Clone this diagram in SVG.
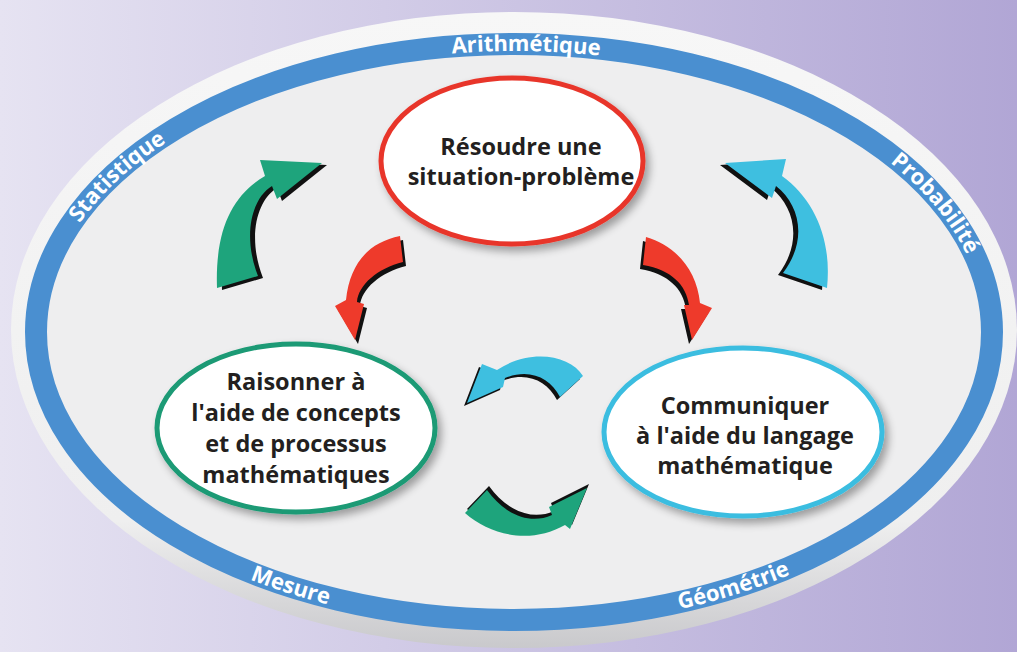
<svg xmlns="http://www.w3.org/2000/svg" width="1017" height="652" viewBox="0 0 1017 652">
<defs>
<linearGradient id="bg" x1="0" y1="0" x2="1" y2="0">
<stop offset="0" stop-color="#e6e3f2"/>
<stop offset="1" stop-color="#b1a6d5"/>
</linearGradient>
<linearGradient id="rim" x1="0" y1="0" x2="0" y2="1">
<stop offset="0" stop-color="#f7f7f7"/>
<stop offset="0.8" stop-color="#efefef"/>
<stop offset="1" stop-color="#c9c9cc"/>
</linearGradient>
<filter id="sh" x="-20%" y="-20%" width="140%" height="140%">
<feGaussianBlur in="SourceAlpha" stdDeviation="4"/>
<feOffset dx="4" dy="5" result="b"/>
<feComponentTransfer><feFuncA type="linear" slope="0.35"/></feComponentTransfer>
<feMerge><feMergeNode/><feMergeNode in="SourceGraphic"/></feMerge>
</filter>
<path id="topArc" d="M 43 332 A 471 281 0 0 1 985 332"/>
<path id="botArc" d="M 29 332 A 485 295 0 0 0 999 332"/>
<style>
.ring{font-family:"Open Sans","Noto Sans",sans-serif;font-weight:bold;font-size:22px;fill:#ffffff;}
.lbl{font-family:"Open Sans","Noto Sans",sans-serif;font-weight:bold;font-size:23.5px;fill:#231f20;text-anchor:middle;}
.shadow{fill:#111111;}
.green{fill:#1ea47c;}
.red{fill:#ee3a2b;}
.cyan{fill:#3ebfe0;}
.node{fill:#ffffff;stroke-width:5;}
</style>
</defs>
<rect x="0" y="0" width="1017" height="652" fill="url(#bg)"/>
<g id="frame">
<ellipse cx="514" cy="330" rx="503" ry="318" fill="url(#rim)"/>
<ellipse cx="514" cy="332" rx="478" ry="288" fill="#eeeeef" stroke="#4a8fd0" stroke-width="22"/>
<text class="ring"><textPath href="#topArc" startOffset="51%" text-anchor="middle">Arithmétique</textPath></text>
<text class="ring"><textPath href="#topArc" startOffset="14.7%" text-anchor="middle">Statistique</textPath></text>
<text class="ring"><textPath href="#topArc" startOffset="88.3%" text-anchor="middle">Probabilité</textPath></text>
<text class="ring"><textPath href="#botArc" startOffset="31.6%" text-anchor="middle">Mesure</textPath></text>
<text class="ring"><textPath href="#botArc" startOffset="68.1%" text-anchor="middle">Géométrie</textPath></text>
</g>
<g id="connectors">
<path class="shadow" transform="translate(5,2)" d="M 217 288 C 215 230 232 195 265 176 L 260 160 L 322 163 L 277 199 L 272 186 C 252 198 242 235 258 276 Z"/>
<path class="green" d="M 217 288 C 215 230 232 195 265 176 L 260 160 L 322 163 L 277 199 L 272 186 C 252 198 242 235 258 276 Z"/>
<path class="shadow" transform="translate(3,4)" d="M 400 236 C 370 242 350 262 346 300 L 335 306 L 355 340 L 364 304 L 357 302 C 358 285 378 268 403 262 Z"/>
<path class="red" d="M 400 236 C 370 242 350 262 346 300 L 335 306 L 355 340 L 364 304 L 357 302 C 358 285 378 268 403 262 Z"/>
<path class="shadow" transform="translate(-3,4)" d="M 646 237 C 675 245 697 270 700 303 L 712 308 L 692 340 L 684 305 L 689 305 C 686 285 672 270 643 265 Z"/>
<path class="red" d="M 646 237 C 675 245 697 270 700 303 L 712 308 L 692 340 L 684 305 L 689 305 C 686 285 672 270 643 265 Z"/>
<path class="shadow" transform="translate(-5,2)" d="M 827 288 C 832 240 815 200 782 176 L 786 159 L 725 163 L 772 198 L 776 186 C 800 205 808 240 783 273 Z"/>
<path class="cyan" d="M 827 288 C 832 240 815 200 782 176 L 786 159 L 725 163 L 772 198 L 776 186 C 800 205 808 240 783 273 Z"/>
<path class="shadow" transform="translate(-3,3)" d="M 583 376 C 570 355 530 348 497 370 L 482 364 L 467 403 L 503 387 L 505 378 C 530 368 550 378 560 397 Z"/>
<path class="cyan" d="M 583 376 C 570 355 530 348 497 370 L 482 364 L 467 403 L 503 387 L 505 378 C 530 368 550 378 560 397 Z"/>
<path class="shadow" transform="translate(2,-4)" d="M 465 513 C 490 535 530 545 565 525 L 570 529 L 587 488 L 549 507 L 552 515 C 530 525 505 515 487 490 Z"/>
<path class="green" d="M 465 513 C 490 535 530 545 565 525 L 570 529 L 587 488 L 549 507 L 552 515 C 530 525 505 515 487 490 Z"/>
</g>
<g id="node-resoudre">
<ellipse class="node" cx="512" cy="161" rx="131" ry="83" stroke="#e8362b" filter="url(#sh)"/>
<text class="lbl" x="521" y="155">Résoudre une</text>
<text class="lbl" x="521" y="185">situation-problème</text>
</g>
<g id="node-raisonner">
<ellipse class="node" cx="296" cy="428" rx="139" ry="84" stroke="#1a9a74" filter="url(#sh)"/>
<text class="lbl" x="296" y="390">Raisonner à</text>
<text class="lbl" x="296" y="421">l'aide de concepts</text>
<text class="lbl" x="296" y="452">et de processus</text>
<text class="lbl" x="296" y="483">mathématiques</text>
</g>
<g id="node-communiquer">
<ellipse class="node" cx="743" cy="432" rx="139" ry="84" stroke="#3bbde0" filter="url(#sh)"/>
<text class="lbl" x="745" y="414">Communiquer</text>
<text class="lbl" x="745" y="444">à l'aide du langage</text>
<text class="lbl" x="745" y="474">mathématique</text>
</g>
</svg>
